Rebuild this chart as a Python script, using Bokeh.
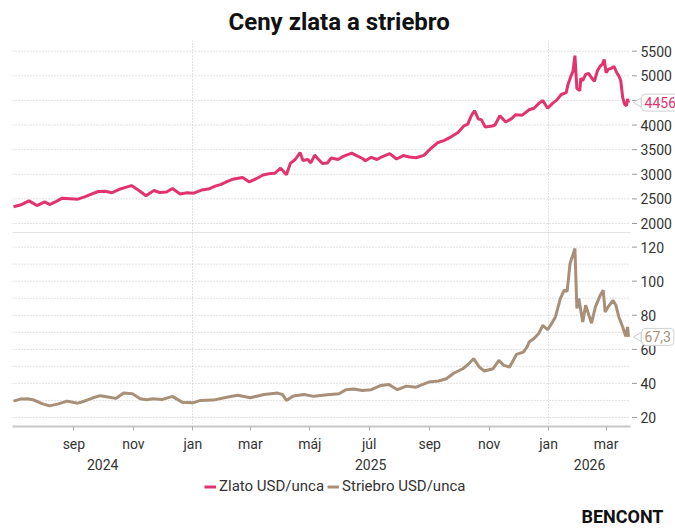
import math
import pandas as pd
from bokeh.plotting import figure
from bokeh.layouts import column
from bokeh.models import (FixedTicker, CustomJSTickFormatter, LinearAxis, Label,
                          Legend, LegendItem, Range1d, ColumnDataSource)
from bokeh.core.properties import value
from bokeh.embed import file_html
from bokeh.resources import INLINE

title_text = "Ceny zlata a striebro"
gold_name = "Zlato USD/unca"
silver_name = "Striebro USD/unca"
brand = "BENCONT"

gold_dates = [
    "2024-07-01", "2024-07-08", "2024-07-17", "2024-07-25", "2024-08-02", "2024-08-07",
    "2024-08-14", "2024-08-20", "2024-08-28", "2024-09-05", "2024-09-12", "2024-09-17",
    "2024-09-26", "2024-10-03", "2024-10-10", "2024-10-17", "2024-10-24", "2024-10-30",
    "2024-11-06", "2024-11-14", "2024-11-22", "2024-11-28", "2024-12-05", "2024-12-11",
    "2024-12-19", "2024-12-26", "2025-01-02", "2025-01-10", "2025-01-17", "2025-01-24",
    "2025-01-30", "2025-02-06", "2025-02-12", "2025-02-21", "2025-02-28", "2025-03-07",
    "2025-03-14", "2025-03-20", "2025-03-26", "2025-04-01", "2025-04-07", "2025-04-11",
    "2025-04-16", "2025-04-21", "2025-04-24", "2025-04-29", "2025-05-02", "2025-05-06",
    "2025-05-09", "2025-05-14", "2025-05-19", "2025-05-23", "2025-05-30", "2025-06-05",
    "2025-06-13", "2025-06-18", "2025-06-24", "2025-06-27", "2025-07-03", "2025-07-09",
    "2025-07-14", "2025-07-22", "2025-07-29", "2025-08-05", "2025-08-11", "2025-08-18",
    "2025-08-26", "2025-09-02", "2025-09-09", "2025-09-16", "2025-09-23", "2025-09-30",
    "2025-10-06", "2025-10-10", "2025-10-14", "2025-10-17", "2025-10-21", "2025-10-24",
    "2025-10-28", "2025-11-04", "2025-11-07", "2025-11-12", "2025-11-18", "2025-11-24",
    "2025-11-28", "2025-12-05", "2025-12-12", "2025-12-17", "2025-12-22", "2025-12-26",
    "2025-12-31", "2026-01-05", "2026-01-09", "2026-01-14", "2026-01-19", "2026-01-21",
    "2026-01-24", "2026-01-26", "2026-01-28", "2026-01-30", "2026-02-02", "2026-02-03",
    "2026-02-05", "2026-02-08", "2026-02-11", "2026-02-14", "2026-02-17", "2026-02-20",
    "2026-02-23", "2026-02-25", "2026-02-27", "2026-03-01", "2026-03-03", "2026-03-06",
    "2026-03-09", "2026-03-12", "2026-03-14", "2026-03-16", "2026-03-18", "2026-03-20",
    "2026-03-22", "2026-03-23", "2026-03-24",
]
gold_values = [
    2340, 2375, 2460, 2365, 2440, 2385,
    2450, 2515, 2505, 2495, 2540, 2580,
    2650, 2655, 2625, 2690, 2735, 2770,
    2680, 2565, 2670, 2630, 2640, 2710,
    2600, 2625, 2615, 2680, 2700, 2760,
    2795, 2860, 2905, 2935, 2845, 2910,
    2985, 3010, 3020, 3125, 2990, 3220,
    3300, 3440, 3280, 3300, 3230, 3390,
    3320, 3220, 3230, 3330, 3300, 3370,
    3430, 3380, 3320, 3275, 3345, 3300,
    3355, 3420, 3310, 3380, 3350, 3335,
    3385, 3520, 3640, 3690, 3760, 3850,
    3980, 4020, 4200, 4290, 4120, 4110,
    3960, 3980, 4000, 4190, 4060, 4130,
    4210, 4200, 4310, 4340, 4440, 4500,
    4340, 4440, 4500, 4620, 4660, 4830,
    5000, 5090, 5410, 4740, 4700, 4950,
    4900, 5030, 5050, 4960, 4890, 5100,
    5200, 5230, 5330, 5060, 5130, 5150,
    5190, 5060, 5000, 4900, 4560, 4420,
    4390, 4530, 4456,
]

silver_dates = [
    "2024-07-01", "2024-07-08", "2024-07-15", "2024-07-21", "2024-07-31", "2024-08-07",
    "2024-08-16", "2024-08-25", "2024-09-05", "2024-09-11", "2024-09-20", "2024-09-28",
    "2024-10-06", "2024-10-14", "2024-10-22", "2024-10-31", "2024-11-08", "2024-11-15",
    "2024-11-21", "2024-12-01", "2024-12-11", "2024-12-21", "2025-01-01", "2025-01-09",
    "2025-01-22", "2025-02-06", "2025-02-16", "2025-03-01", "2025-03-15", "2025-03-29",
    "2025-04-03", "2025-04-07", "2025-04-14", "2025-04-25", "2025-05-05", "2025-05-19",
    "2025-05-31", "2025-06-07", "2025-06-15", "2025-06-24", "2025-07-03", "2025-07-13",
    "2025-07-21", "2025-07-30", "2025-08-08", "2025-08-18", "2025-08-25", "2025-08-31",
    "2025-09-10", "2025-09-18", "2025-09-26", "2025-10-05", "2025-10-11", "2025-10-16",
    "2025-10-22", "2025-10-27", "2025-11-05", "2025-11-11", "2025-11-16", "2025-11-22",
    "2025-11-29", "2025-12-06", "2025-12-10", "2025-12-12", "2025-12-17", "2025-12-22",
    "2025-12-26", "2025-12-31", "2026-01-05", "2026-01-08", "2026-01-13", "2026-01-17",
    "2026-01-20", "2026-01-23", "2026-01-28", "2026-01-30", "2026-02-01", "2026-02-05",
    "2026-02-08", "2026-02-14", "2026-02-18", "2026-02-23", "2026-02-26", "2026-02-28",
    "2026-03-03", "2026-03-08", "2026-03-11", "2026-03-14", "2026-03-18", "2026-03-21",
    "2026-03-23", "2026-03-24",
]
silver_values = [
    29.6, 30.8, 31.0, 30.4, 28.0, 26.8,
    28.0, 29.6, 28.4, 29.4, 31.4, 32.8,
    32.0, 31.2, 34.3, 33.9, 31.0, 30.4,
    31.0, 30.6, 32.4, 29.0, 28.6, 30.0,
    30.2, 32.0, 33.0, 31.6, 33.5, 34.3,
    33.5, 30.0, 32.6, 33.5, 32.4, 33.3,
    33.9, 36.3, 36.7, 35.8, 36.3, 38.8,
    39.4, 36.3, 38.4, 37.8, 39.4, 40.8,
    41.4, 42.7, 46.1, 48.6, 51.5, 54.5,
    49.6, 47.3, 48.6, 53.5, 50.6, 49.6,
    57.0, 58.4, 61.5, 64.3, 66.3, 69.5,
    74.0, 71.5, 76.0, 79.0, 89.8, 94.7,
    94.0, 110.4, 119.2, 84.0, 89.8, 76.0,
    85.9, 75.3, 84.9, 91.8, 94.7, 81.9,
    84.9, 88.8, 85.9, 79.0, 73.1, 67.6,
    73.1, 67.3,
]

gold_ticks = [2000, 2500, 3000, 3500, 4000, 4500, 5000, 5500]
silver_ticks = [20, 40, 60, 80, 100, 120]
silver_grid = [20, 30, 40, 50, 60, 70, 80, 90, 100, 110, 120]
month_ticks = ["2024-09-01", "2024-11-01", "2025-01-01", "2025-03-01", "2025-05-01",
               "2025-07-01", "2025-09-01", "2025-11-01", "2026-01-01", "2026-03-01"]
year_starts = ["2025-01-01", "2026-01-01"]
x_start, x_end = "2024-06-30", "2026-03-26"
gold_range = (1797, 5717)
silver_range = (14.7, 128)

GOLD = "#e2336f"
SILVER = "#a78f78"
GRID = "#c4c4c4"
AXIS = "#c8c8c8"
TXT = "#333333"
BOX = "#d0d0d0"
FONT = "Roboto"

DATA_W = 618      # px of the plotting area that holds the data
FRAME_W = 663     # frame extends to the right to host the value boxes / tick labels
FRAME_H = 193


def ms(d):
    return int(pd.Timestamp(d).value // 10**6)


x0, x1 = ms(x_start), ms(x_end)
mpp = (x1 - x0) / DATA_W
xr = Range1d(start=x0, end=x0 + (x1 - x0) * FRAME_W / DATA_W)
year_grid = [ms(d) for d in year_starts]


def style(p, ticks, grid, labels):
    p.outline_line_color = None
    p.yaxis.visible = False
    p.ygrid.visible = False
    p.xgrid.ticker = FixedTicker(ticks=year_grid)
    p.xgrid.grid_line_color = GRID
    p.xgrid.grid_line_dash = "1 2"
    # horizontal grid lines limited to the data area
    p.segment(x0=[x0] * len(grid), x1=[x1] * len(grid), y0=grid, y1=grid,
              line_color=GRID, line_dash="1 2", line_width=1)
    # tick marks and tick labels of the right value axis
    p.scatter(x=[x1 + 4 * mpp] * len(ticks), y=ticks, marker="dash", size=5,
              line_color="#9a9a9a", line_width=1)
    p.text(x=[x1] * len(ticks), y=ticks, text=labels, x_offset=10,
           text_font=value(FONT), text_font_size=value("14px"), text_color=TXT,
           text_align="left", text_baseline="middle")


def value_box(p, x, y, text, color):
    # small pointer on the left side of the callout
    p.scatter(x=[x + 10 * mpp], y=[y], marker="triangle", size=9, angle=math.pi / 2,
              fill_color="white", line_color=BOX, line_width=1)
    p.add_layout(Label(x=x, y=y, x_offset=13, text=text, text_font=FONT,
                       text_font_size="14px", text_color=color, text_align="left",
                       text_baseline="middle", background_fill_color="white",
                       border_line_color=BOX, border_radius=4, padding=3))


def bottom_axis(ax):
    ax.bounds = (x0, x1)
    ax.axis_line_color = AXIS
    ax.axis_line_width = 2
    ax.minor_tick_line_color = None


# ---------- top: gold ----------
p1 = figure(x_axis_type="datetime", x_range=xr, y_range=Range1d(*gold_range),
            frame_width=FRAME_W, frame_height=FRAME_H,
            output_backend="svg", toolbar_location=None, min_border=0,
            min_border_left=12, min_border_top=1, title=title_text)
p1.title.align = "left"
p1.title.offset = 216
p1.title.text_font = FONT
p1.title.text_font_size = "24px"
p1.title.text_font_style = "bold"
p1.title.text_color = "#111111"
style(p1, gold_ticks, gold_ticks, [str(t) for t in gold_ticks])
xa1 = p1.xaxis[0]
bottom_axis(xa1)
xa1.ticker = FixedTicker(ticks=[])
xa1.major_label_text_font_size = "0px"
xa1.major_tick_out = 0
xa1.major_tick_in = 0
xa1.major_label_standoff = 0

src_g = ColumnDataSource(dict(x=pd.to_datetime(gold_dates), y=gold_values))
p1.line("x", "y", source=src_g, color=GOLD, line_width=3)
value_box(p1, ms(gold_dates[-1]), gold_values[-1], f"{gold_values[-1]:.0f}", GOLD)

# ---------- bottom: silver ----------
p2 = figure(x_axis_type="datetime", x_range=xr, y_range=Range1d(*silver_range),
            frame_width=FRAME_W, frame_height=FRAME_H,
            output_backend="svg", toolbar_location=None, min_border=0,
            min_border_left=12)
style(p2, silver_ticks, silver_grid, [str(t) for t in silver_ticks])
src_s = ColumnDataSource(dict(x=pd.to_datetime(silver_dates), y=silver_values))
p2.line("x", "y", source=src_s, color=SILVER, line_width=3)
value_box(p2, ms(silver_dates[-1]), silver_values[-1],
          f"{silver_values[-1]:.1f}".replace(".", ","), SILVER)

xa2 = p2.xaxis[0]
bottom_axis(xa2)
xa2.ticker = FixedTicker(ticks=[ms(d) for d in month_ticks])
xa2.formatter = CustomJSTickFormatter(code="""
const m = ["jan","feb","mar","apr","máj","jún","júl","aug","sep","okt","nov","dec"];
return m[new Date(tick).getUTCMonth()];
""")
xa2.major_tick_out = 4
xa2.major_tick_in = 0
xa2.major_tick_line_color = "#b0b0b0"
xa2.major_label_text_font = FONT
xa2.major_label_text_font_size = "14px"
xa2.major_label_text_color = TXT
xa2.major_label_standoff = 5

bounds = [x0] + year_grid + [x1]
year_centers = [(a + b) / 2 for a, b in zip(bounds[:-1], bounds[1:])]
ya = LinearAxis(ticker=FixedTicker(ticks=year_centers),
                formatter=CustomJSTickFormatter(code="return String(new Date(tick).getUTCFullYear());"),
                axis_line_color=None, major_tick_line_color=None, minor_tick_line_color=None,
                major_tick_out=0, major_tick_in=0, major_label_standoff=4,
                major_label_text_font=FONT, major_label_text_font_size="14px",
                major_label_text_color=TXT)
p2.add_layout(ya, "below")

# ---------- footer: legend + brand ----------
FOOT_H = 55
p3 = figure(width=12 + FRAME_W, height=FOOT_H, x_range=Range1d(0, 1), y_range=Range1d(0, 1),
            output_backend="svg", toolbar_location=None, min_border=0)
p3.axis.visible = False
p3.grid.visible = False
p3.outline_line_color = None
# the legend renderers reuse the series; the footer's own ranges keep them out of view
r_g = p3.line("x", "y", source=src_g, color=GOLD, line_width=3)
r_s = p3.line("x", "y", source=src_s, color=SILVER, line_width=3)
legend = Legend(items=[LegendItem(label=gold_name, renderers=[r_g]),
                       LegendItem(label=silver_name, renderers=[r_s])],
                orientation="horizontal", location=(192, 32), glyph_width=12,
                glyph_height=15, label_standoff=3, spacing=3, padding=4, margin=0,
                border_line_color=None, background_fill_alpha=0,
                label_text_font=FONT, label_text_font_size="15px",
                label_text_color=TXT, label_height=15)
p3.add_layout(legend)
p3.add_layout(Label(x=651, y=11, x_units="screen", y_units="screen", text=brand,
                    text_align="right", text_baseline="middle", text_font=FONT,
                    text_font_size="18px", text_font_style="bold", text_color="#111111"))

layout = column(p1, p2, p3, spacing=0)
open("out.html", "w").write(file_html(layout, INLINE))
